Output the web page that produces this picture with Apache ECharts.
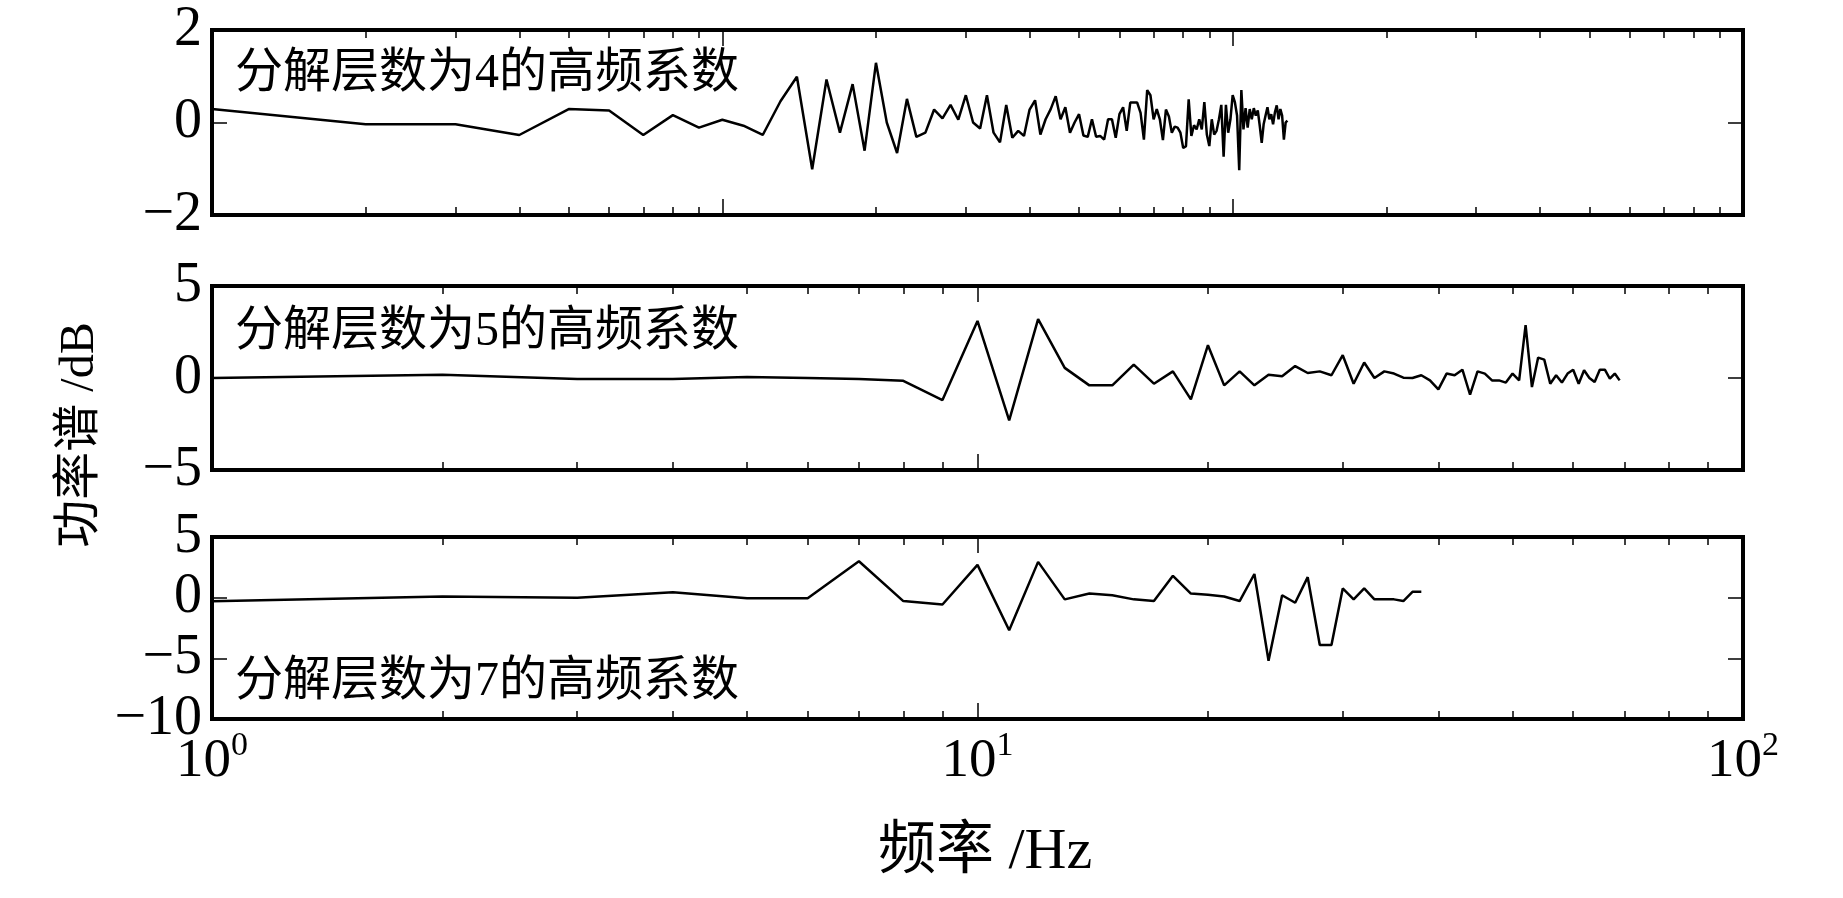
<!DOCTYPE html>
<html><head><meta charset="utf-8">
<script src="https://cdn.jsdelivr.net/npm/echarts@6/dist/echarts.min.js"></script>
<style>html,body{margin:0;padding:0;background:#fff}#c{width:1843px;height:898px}</style>
</head><body><div id="c"></div>
<script>
// ---------- data ----------
const freq1 = [1,2,3,4,5,6,7,8,9,10,11,12,13,14,15,16,17,18,19,20,21,22,23,24,25,26,27,28,29,30,
31,32,33,34,35,36,37,38,39,40,41,42,43,44,45,46,47,48,49,50,51,52,53,54,55,56,57,58,59,60,
61,62,63,64,65,66,67,68,69,70,71,72,73,74,75,76,77,78,79,80,81,82,83,84,85,86,87,88,89,90,
91,92,93,94,95,96,97,98,99,100,101,102,103,104,105,106,107,108,109,110,111,112,113,114,115,116,117,118,119,120,
121,122,123,124,125,126,127,128];
const power1 = [0.29,-0.04,-0.04,-0.27,0.29,0.26,-0.27,0.16,-0.11,0.06,-0.07,-0.27,0.46,0.99,-1.01,0.93,-0.22,0.83,-0.61,1.29,
0.0,-0.66,0.51,-0.31,-0.22,0.28,0.09,0.38,0.06,0.59,0.0,-0.13,0.59,-0.22,-0.43,0.38,-0.33,-0.18,-0.29,0.28,
0.48,-0.26,0.07,0.29,0.57,0.07,0.33,-0.22,0.0,0.18,-0.28,-0.31,0.07,-0.31,-0.29,-0.37,0.07,0.07,-0.33,0.18,
0.33,-0.18,0.43,0.43,0.43,0.21,-0.37,0.70,0.59,0.07,0.29,0.07,-0.38,0.28,0.13,-0.22,-0.09,-0.11,-0.22,-0.55,
-0.51,0.50,-0.29,-0.06,-0.15,0.07,-0.15,0.44,-0.26,-0.51,0.07,-0.26,-0.18,0.07,0.38,-0.74,0.38,-0.22,0.07,0.59,
0.44,0.15,-1.03,0.70,-0.15,0.31,-0.11,0.29,0.07,0.31,0.15,0.26,-0.07,-0.44,-0.04,0.15,0.33,0.07,0.18,-0.04,
0.22,0.37,0.07,0.29,0.15,-0.37,0.0,0.04];

const freq2 = [1,2,3,4,5,6,7,8,9,10,11,12,13,14,15,16,17,18,19,20,21,22,23,24,25,26,27,28,29,30,
31,32,33,34,35,36,37,38,39,40,41,42,43,44,45,46,47,48,49,50,51,52,53,54,55,56,57,58,59,60,
61,62,63,64,65,66,67,68,69];
const power2 = [0.0,0.18,-0.05,-0.05,0.05,0.0,-0.05,-0.15,-1.2,3.1,-2.3,3.2,0.55,-0.4,-0.4,0.73,-0.31,0.36,-1.16,1.78,
-0.4,0.36,-0.4,0.18,0.09,0.65,0.27,0.36,0.15,1.24,-0.31,0.84,0.0,0.36,0.24,0.02,0.0,0.15,-0.13,-0.62,
0.24,0.15,0.45,-0.91,0.36,0.24,-0.13,-0.13,-0.25,0.24,-0.13,2.87,-0.49,1.11,1.0,-0.31,0.15,-0.25,0.24,0.45,
-0.31,0.42,0.0,-0.22,0.45,0.45,-0.04,0.24,-0.13];

const freq3 = [1,2,3,4,5,6,7,8,9,10,11,12,13,14,15,16,17,18,19,20,21,22,23,24,25,26,27,28,29,30,
31,32,33,34,35,36,37,38];
const power3 = [-0.3,0.1,0.0,0.45,-0.05,-0.05,3.0,-0.28,-0.56,2.7,-2.68,2.95,-0.14,0.34,0.2,-0.14,-0.28,1.8,0.34,0.25,
0.1,-0.28,1.95,-5.2,0.2,-0.42,1.69,-3.9,-3.9,0.76,-0.14,0.76,-0.14,-0.14,-0.14,-0.28,0.48,0.48];

const xMajor1 = [1,10,100,1000];
const xMinor1 = [2,3,4,5,6,7,8,9,20,30,40,50,60,70,80,90,200,300,400,500,600,700,800,900];
const xMajor23 = [1,10,100];
const xMinor23 = [2,3,4,5,6,7,8,9,20,30,40,50,60,70,80,90];
const yTicks1 = [-2,0,2];
const yTicks2 = [-5,0,5];
const yTicks3 = [-10,-5,0,5];

const panelTitles = ['分解层数为4的高频系数','分解层数为5的高频系数','分解层数为7的高频系数'];
const xAxisTitle = '频率 /Hz';
const yAxisTitle = '功率谱 /dB';

// ---------- chart ----------
const SERIF = '"Liberation Serif", "Times New Roman", serif';
const MIXED = '"Liberation Serif", "Noto Sans CJK SC", serif';

const grids = [
  {left:212, width:1531, top:30, height:185},
  {left:212, width:1531, top:286, height:184},
  {left:212, width:1531, top:537, height:182}
].map(g => Object.assign(g, {show:true, borderColor:'#000', borderWidth:4, backgroundColor:'transparent', containLabel:false}));

function xAxesFor(grid, majors, minors, showLabels) {
  const max = majors[majors.length - 1];
  const mk = (pos, vals, len, lab) => ({
    type:'log', logBase:10, gridIndex:grid, min:1, max:max, position:pos,
    axisLine:{show:false, onZero:false}, splitLine:{show:false}, minorTick:{show:false},
    axisTick:{show:true, inside:true, length:len, lineStyle:{color:'#000', width:1.5}, customValues:vals},
    axisLabel: lab ? {
      show:true, customValues:majors, margin:10, color:'#000',
      formatter: v => '{b|10}{s|' + Math.round(Math.log10(v)) + '}',
      rich:{
        b:{fontFamily:SERIF, fontSize:55, color:'#000', lineHeight:60, verticalAlign:'bottom'},
        s:{fontFamily:SERIF, fontSize:34, color:'#000', lineHeight:30, verticalAlign:'top'}
      }
    } : {show:false}
  });
  return [mk('bottom', majors, 16, showLabels), mk('bottom', minors, 8, false),
          mk('top', majors, 16, false), mk('top', minors, 8, false)];
}

function yAxesFor(grid, ticks) {
  const mk = (pos, lab) => ({
    type:'value', gridIndex:grid, min:ticks[0], max:ticks[ticks.length-1], position:pos,
    axisLine:{show:false, onZero:false}, splitLine:{show:false},
    axisTick:{show:true, inside:true, length:15, lineStyle:{color:'#000', width:1.5}, customValues:ticks},
    axisLabel: lab ? {show:true, customValues:ticks, margin:10, color:'#000', fontFamily:SERIF, fontSize:56,
      formatter: v => String(v).replace('-', '\u2212')} : {show:false}
  });
  return [mk('left', true), mk('right', false)];
}

const xAxis = [].concat(
  xAxesFor(0, xMajor1, xMinor1, false),
  xAxesFor(1, xMajor23, xMinor23, false),
  xAxesFor(2, xMajor23, xMinor23, true)
);
const yAxis = [].concat(yAxesFor(0, yTicks1), yAxesFor(1, yTicks2), yAxesFor(2, yTicks3));

const pairs = (fs, vs) => fs.map((f, i) => [f, vs[i]]);
const lineSeries = (xi, yi, data) => ({
  type:'line', xAxisIndex:xi, yAxisIndex:yi, data:data, showSymbol:false, symbol:'none',
  lineStyle:{color:'#000', width:2.5}, z:5
});

const txt = (x, y, text, size) => ({
  type:'text', x:x, y:y, z:20,
  style:{text:text, fontFamily:MIXED, fontSize:size, fill:'#000', textAlign:'left', textVerticalAlign:'middle', align:'left', verticalAlign:'middle'}
});

const chart = echarts.init(document.getElementById('c'), null, {renderer:'canvas'});
chart.setOption({
  animation:false,
  backgroundColor:'#fff',
  grid:grids,
  xAxis:xAxis,
  yAxis:yAxis,
  series:[
    lineSeries(0, 0, pairs(freq1, power1)),
    lineSeries(4, 2, pairs(freq2, power2)),
    lineSeries(8, 4, pairs(freq3, power3))
  ],
  graphic:[
    txt(235, 74, panelTitles[0], 48),
    txt(235, 332, panelTitles[1], 48),
    txt(235, 682, panelTitles[2], 48),
    {type:'text', x:985, y:853, z:20, style:{text:xAxisTitle, fontFamily:MIXED, fontSize:58, fill:'#000', textAlign:'center', textVerticalAlign:'middle', align:'center', verticalAlign:'middle'}},
    {type:'text', x:80, y:435, rotation:Math.PI/2, z:20, style:{text:yAxisTitle, fontFamily:MIXED, fontSize:48, fill:'#000', textAlign:'center', textVerticalAlign:'middle', align:'center', verticalAlign:'middle'}}
  ]
});
</script></body></html>
